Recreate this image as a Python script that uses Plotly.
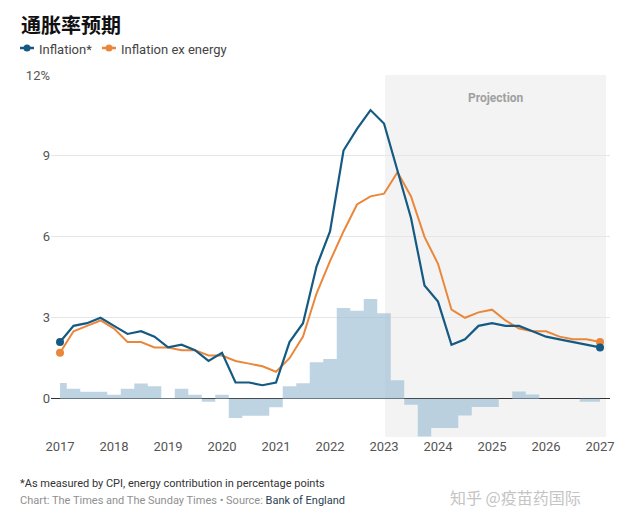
import plotly.graph_objects as go

# ---------------- data ----------------
start_year = 2017
quarters = [f"{start_year + i // 4}Q{i % 4 + 1}" for i in range(41)]

inflation = [2.1, 2.7, 2.8, 3.0, 2.7, 2.4, 2.5, 2.3, 1.9, 2.0, 1.8, 1.4,
             1.7, 0.6, 0.6, 0.5, 0.6, 2.1, 2.8, 4.9, 6.2, 9.2, 10.0, 10.7,
             10.2, 8.4, 6.7, 4.2, 3.6, 2.0, 2.2, 2.7, 2.8, 2.7, 2.7, 2.5,
             2.3, 2.2, 2.1, 2.0, 1.9]

inflation_ex_energy = [1.7, 2.5, 2.7, 2.9, 2.6, 2.1, 2.1, 1.9, 1.9, 1.8, 1.8, 1.6,
                       1.6, 1.4, 1.3, 1.2, 1.0, 1.5, 2.3, 3.9, 5.1, 6.2, 7.2, 7.5,
                       7.6, 8.4, 7.5, 6.0, 5.0, 3.3, 3.0, 3.2, 3.3, 2.9, 2.6, 2.5,
                       2.5, 2.3, 2.2, 2.2, 2.1]

energy_contribution = [0.58, 0.37, 0.26, 0.26, 0.15, 0.37, 0.56, 0.46, 0.03, 0.37, 0.15, -0.11,
                       0.15, -0.72, -0.63, -0.63, -0.32, 0.46, 0.57, 1.35, 1.47, 3.36, 3.26, 3.7,
                       3.17, 0.68, -0.22, -1.4, -1.09, -1.09, -0.62, -0.31, -0.31, 0.0, 0.27, 0.16,
                       0.0, 0.0, 0.0, -0.11, -0.11]

year_ticks = list(range(2017, 2028))
y_ticks = [0, 3, 6, 9, 12]
y_tick_labels = ["0", "3", "6", "9", "12%"]
projection_start = 2023.02
projection_end = 2027.11


def q_to_year(q):
    y, n = q.split("Q")
    return int(y) + (int(n) - 1) / 4


x = [q_to_year(q) for q in quarters]

# ---------------- styling ----------------
W, H = 640, 525
OFF = 8  # page body margin
L, R, T, B = 51, 610, 75, 437
BLUE = "#155a83"
ORANGE = "#ea873b"
BAR = "rgba(160,192,212,0.68)"
FONT = "Roboto"


def px(v):
    return (v - L) / (R - L)


def py(v):
    return (B - v) / (B - T)


fig = go.Figure()

fig.add_trace(go.Scatter(x=x, y=energy_contribution, mode="lines", line=dict(width=0, shape="hvh"),
                         fill="tozeroy", fillcolor=BAR, hoverinfo="skip", showlegend=False))
fig.add_trace(go.Scatter(x=x, y=inflation_ex_energy, mode="lines", line=dict(color=ORANGE, width=2),
                         name="Inflation ex energy", showlegend=False))
fig.add_trace(go.Scatter(x=x, y=inflation, mode="lines", line=dict(color=BLUE, width=2.2),
                         name="Inflation*", showlegend=False))
fig.add_trace(go.Scatter(x=[x[0], x[-1]], y=[inflation_ex_energy[0], inflation_ex_energy[-1]],
                         mode="markers", marker=dict(color=ORANGE, size=8), cliponaxis=False,
                         showlegend=False))
fig.add_trace(go.Scatter(x=[x[0], x[-1]], y=[inflation[0], inflation[-1]],
                         mode="markers", marker=dict(color=BLUE, size=8), cliponaxis=False,
                         showlegend=False))

shapes = [
    dict(type="rect", xref="x", yref="paper", x0=projection_start, x1=projection_end, y0=0, y1=1,
         fillcolor="#f3f3f3", line=dict(width=0), layer="below"),
]
# manual legend
for (x0, x1, col) in [(20, 34, BLUE), (102, 116, ORANGE)]:
    shapes.append(dict(type="line", xref="paper", yref="paper", x0=px(x0), x1=px(x1),
                       y0=py(48), y1=py(48), line=dict(color=col, width=2.5)))
    cx = (x0 + x1) / 2
    shapes.append(dict(type="circle", xref="paper", yref="paper", x0=px(cx - 3.5), x1=px(cx + 3.5),
                       y0=py(48 + 3.5), y1=py(48 - 3.5), fillcolor=col, line=dict(width=0)))

annotations = [
    dict(text="<b>通胀率预期</b>", xref="paper", yref="paper", x=px(19), y=py(OFF), xanchor="left",
         yanchor="top", showarrow=False, font=dict(family="Noto Sans CJK SC", size=20, color="#111")),
    dict(text="Inflation*", xref="paper", yref="paper", x=px(37), y=py(49), xanchor="left",
         yanchor="middle", showarrow=False, font=dict(family=FONT, size=13, color="#444")),
    dict(text="Inflation ex energy", xref="paper", yref="paper", x=px(119), y=py(49), xanchor="left",
         yanchor="middle", showarrow=False, font=dict(family=FONT, size=13, color="#444")),
    dict(text="<b>Projection</b>", xref="x", yref="paper", x=(projection_start + projection_end) / 2,
         y=py(98), xanchor="center", yanchor="middle", showarrow=False,
         font=dict(family=FONT, size=12, color="#a0a0a0")),
    dict(text="*As measured by CPI, energy contribution in percentage points", xref="paper", yref="paper",
         x=px(18), y=py(483), xanchor="left", yanchor="middle", showarrow=False,
         font=dict(family=FONT, size=11, color="#333")),
    dict(text="Chart: The Times and The Sunday Times • Source: <span style='color:#2b3f52'>Bank of England</span>",
         xref="paper", yref="paper", x=px(18), y=py(500), xanchor="left", yanchor="middle", showarrow=False,
         font=dict(family=FONT, size=11, color="#8f8f8f")),
    dict(text="知乎 @疫苗药国际", xref="paper", yref="paper", x=px(448), y=py(497), xanchor="left",
         yanchor="middle", showarrow=False, font=dict(family="Noto Sans CJK SC", size=16, color="#c4c4c4")),
]

fig.update_layout(
    width=W - OFF, height=H - OFF,
    margin=dict(l=L - OFF, r=W - R, t=T - OFF, b=H - B),
    paper_bgcolor="white", plot_bgcolor="white",
    showlegend=False,
    shapes=shapes,
    annotations=annotations,
    xaxis=dict(range=[2016.833, 2027.185], tickvals=year_ticks, showgrid=False, zeroline=False,
               showline=False, ticks="", tickfont=dict(family=FONT, size=13, color="#555"),
               fixedrange=True),
    yaxis=dict(range=[-1.42, 12], tickvals=y_ticks, ticktext=y_tick_labels, showgrid=True,
               gridcolor="#e6e6e6", gridwidth=1, zeroline=True, zerolinecolor="#333", zerolinewidth=1.3,
               showline=False, ticks="", tickfont=dict(family=FONT, size=13, color="#555"),
               fixedrange=True),
)

fig.write_html("out.html")
